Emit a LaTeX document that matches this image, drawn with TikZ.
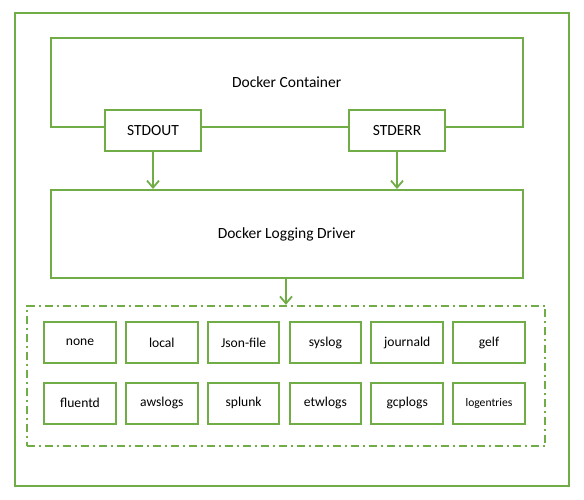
\documentclass[tikz,border=0pt]{standalone}
\usepackage{fontspec}
\setmainfont{Carlito}
\usetikzlibrary{arrows.meta}
\definecolor{dockgreen}{RGB}{112,173,71}
\begin{document}
\begin{tikzpicture}[x=1pt,y=-1pt]
	\tikzstyle{Frame} = [rectangle, draw=dockgreen, line width=2pt, inner sep=0pt, text centered]
	\tikzstyle{Big} = [Frame, minimum width=472pt, minimum height=88.4pt, font=\fontsize{15.5}{18}\selectfont]
	\tikzstyle{Stream} = [Frame, minimum width=96pt, minimum height=40.7pt, fill=white, font=\fontsize{15.5}{18}\selectfont]
	\tikzstyle{Plugin} = [Frame, minimum width=71.5pt, minimum height=41pt, font=\fontsize{13.6}{16}\selectfont]
	\tikzstyle{Tiny} = [Plugin, font=\fontsize{11.6}{14}\selectfont]
	\tikzstyle{arrow} = [draw=dockgreen, line width=1.8pt, -{Straight Barb[length=7pt,width=12pt]}]

	\useasboundingbox (0,0) rectangle (584,500);
	\draw [dockgreen, line width=2pt] (14.7,13.3) rectangle (569.3,485.7);

	\node (container) [Big] at (286.7,82.5) {Docker Container};
	\node (stdout) [Stream] at (153,130.4) {STDOUT};
	\node (stderr) [Stream] at (397,130.4) {STDERR};
	\node (driver) [Big] at (286.7,234.2) {Docker Logging Driver};
	\node (plugins) [rectangle, draw=dockgreen, line width=1.8pt, dash pattern=on 8pt off 4pt on 2pt off 4pt,
		minimum width=518.6pt, minimum height=140.6pt] at (286,376) {};

	\foreach \lbl/\nm/\sty [count=\i from 0] in {none/none/Plugin, local/local/Plugin, Json-file/json/Plugin, syslog/syslog/Plugin, journald/journald/Plugin, gelf/gelf/Plugin}
		\node (\nm) [\sty] at (80+81.8*\i,342.5) {\lbl};
	\foreach \lbl/\nm/\sty [count=\i from 0] in {fluentd/fluentd/Plugin, awslogs/awslogs/Plugin, splunk/splunk/Plugin, etwlogs/etwlogs/Plugin, gcplogs/gcplogs/Plugin, logentries/logentries/Tiny}
		\node (\nm) [\sty] at (80+81.8*\i,403) {\lbl};

	\draw [arrow] (stdout.south) -- (stdout.south |- driver.north);
	\draw [arrow] (stderr.south) -- (stderr.south |- driver.north);
	\draw [arrow] (driver.south -| plugins.north) -- (plugins.north);
\end{tikzpicture}
\end{document}
